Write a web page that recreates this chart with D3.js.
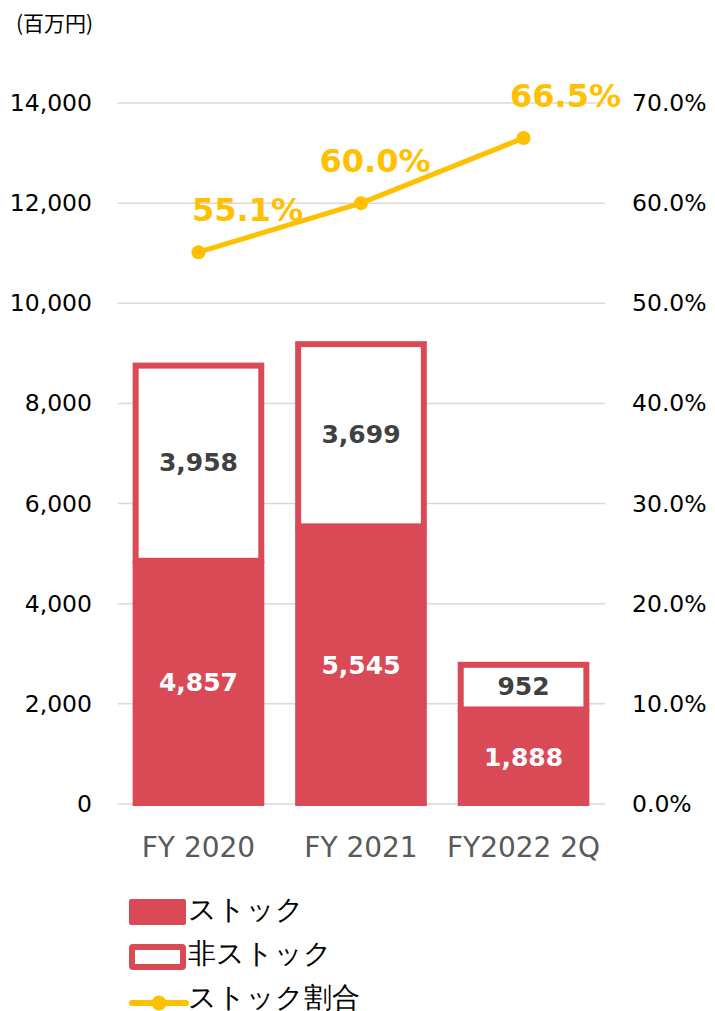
<!DOCTYPE html>
<html>
<head>
<meta charset="utf-8">
<script src="https://cdn.jsdelivr.net/npm/d3@7"></script>
<style>
body { margin: 0; background: #fff; }
svg { display: block; }
text { font-family: "DejaVu Sans", Verdana, sans-serif; }
.jp { font-family: "Noto Sans CJK JP", sans-serif; }
</style>
</head>
<body>
<svg id="svg" width="715" height="1011"></svg>
<script>
const categories = ["FY 2020", "FY 2021", "FY2022 2Q"];
const stock = [4857, 5545, 1888];
const nonStock = [3958, 3699, 952];
const ratio = [55.1, 60.0, 66.5];
const leftTicks = [0, 2000, 4000, 6000, 8000, 10000, 12000, 14000];
const rightTicks = [0, 10, 20, 30, 40, 50, 60, 70];

const red = "#d94a56";
const gold = "#ffc000";
const svg = d3.select("#svg");

const x = d3.scaleBand().domain(categories).range([118, 604]).paddingInner(0.19).paddingOuter(0.09);
const y = d3.scaleLinear().domain([0, 14000]).range([804, 103]);
const y2 = d3.scaleLinear().domain([0, 70]).range([804, 103]);

// gridlines
svg.append("g")
    .selectAll("line")
    .data(leftTicks)
    .join("line")
    .attr("x1", 118).attr("x2", 605)
    .attr("y1", d => y(d)).attr("y2", d => y(d))
    .attr("stroke", "#d9d9d9")
    .attr("stroke-width", 1.5);

// left axis
const yAxis = d3.axisLeft(y).tickValues(leftTicks).tickSize(0).tickPadding(0)
    .tickFormat(d3.format(","));
svg.append("g")
    .attr("transform", "translate(92,0)")
    .call(yAxis)
    .call(g => g.select(".domain").remove())
    .call(g => g.selectAll("text").attr("font-size", 23.5).attr("fill", "#000")
        .attr("font-family", "DejaVu Sans, Verdana, sans-serif"));

// right axis
const y2Axis = d3.axisRight(y2).tickValues(rightTicks).tickSize(0).tickPadding(0)
    .tickFormat(d => d.toFixed(1) + "%");
svg.append("g")
    .attr("transform", "translate(632,0)")
    .call(y2Axis)
    .call(g => g.select(".domain").remove())
    .call(g => g.selectAll("text").attr("font-size", 23.5).attr("fill", "#000")
        .attr("font-family", "DejaVu Sans, Verdana, sans-serif"));

// unit
svg.append("text").attr("class", "jp").attr("x", 16).attr("y", 31)
    .attr("font-size", 21).attr("fill", "#000").text("(百万円)");

const sw = 6;
// stock bars
svg.append("g").selectAll("rect")
    .data(categories)
    .join("rect")
    .attr("x", d => x(d))
    .attr("width", x.bandwidth())
    .attr("y", (d, i) => y(stock[i]))
    .attr("height", (d, i) => y(0) - y(stock[i]) + 2)
    .attr("fill", red);

// non-stock bars
svg.append("g").selectAll("rect")
    .data(categories)
    .join("rect")
    .attr("x", d => x(d) + sw / 2)
    .attr("width", x.bandwidth() - sw)
    .attr("y", (d, i) => y(stock[i] + nonStock[i]) + sw / 2)
    .attr("height", (d, i) => y(stock[i]) - y(stock[i] + nonStock[i]) - sw / 2)
    .attr("fill", "#fff")
    .attr("stroke", red)
    .attr("stroke-width", sw);

// bar labels
svg.append("g").selectAll("text")
    .data(categories)
    .join("text")
    .attr("x", d => x(d) + x.bandwidth() / 2)
    .attr("y", (d, i) => (y(stock[i]) + y(0)) / 2)
    .attr("dy", "0.36em")
    .attr("text-anchor", "middle")
    .attr("font-size", 25).attr("font-weight", "bold").attr("fill", "#fff")
    .text((d, i) => d3.format(",")(stock[i]));

svg.append("g").selectAll("text")
    .data(categories)
    .join("text")
    .attr("x", d => x(d) + x.bandwidth() / 2)
    .attr("y", (d, i) => (y(stock[i]) + y(stock[i] + nonStock[i])) / 2)
    .attr("dy", "0.36em")
    .attr("text-anchor", "middle")
    .attr("font-size", 25).attr("font-weight", "bold").attr("fill", "#404040")
    .text((d, i) => d3.format(",")(nonStock[i]));

// x axis labels
svg.append("g").selectAll("text")
    .data(categories)
    .join("text")
    .attr("x", d => x(d) + x.bandwidth() / 2)
    .attr("y", 857)
    .attr("text-anchor", "middle")
    .attr("font-size", 28).attr("fill", "#595959")
    .text(d => d);

// ratio line
const line = d3.line()
    .x((d, i) => x(categories[i]) + x.bandwidth() / 2)
    .y(d => y2(d));
svg.append("path")
    .datum(ratio)
    .attr("d", line)
    .attr("fill", "none")
    .attr("stroke", gold)
    .attr("stroke-width", 5);

svg.append("g").selectAll("circle")
    .data(ratio)
    .join("circle")
    .attr("cx", (d, i) => x(categories[i]) + x.bandwidth() / 2)
    .attr("cy", d => y2(d))
    .attr("r", 7)
    .attr("fill", gold);

const labelDx = [49, 14, 42];
svg.append("g").selectAll("text")
    .data(ratio)
    .join("text")
    .attr("x", (d, i) => x(categories[i]) + x.bandwidth() / 2 + labelDx[i])
    .attr("y", d => y2(d) - 31)
    .attr("text-anchor", "middle")
    .attr("font-size", 32).attr("font-weight", "bold").attr("fill", gold)
    .text(d => d.toFixed(1) + "%");

// legend
const lg = svg.append("g").attr("class", "jp");
lg.append("rect").attr("x", 129).attr("y", 899).attr("width", 57).attr("height", 26)
    .attr("rx", 2).attr("fill", red);
lg.append("rect").attr("x", 132).attr("y", 947).attr("width", 51).attr("height", 20)
    .attr("rx", 1).attr("fill", "#fff").attr("stroke", red).attr("stroke-width", 6);
lg.append("line").attr("x1", 132).attr("x2", 186).attr("y1", 1003).attr("y2", 1003)
    .attr("stroke", gold).attr("stroke-width", 6).attr("stroke-linecap", "round");
lg.append("circle").attr("cx", 159).attr("cy", 1003).attr("r", 7.5).attr("fill", gold);
const legendNames = ["ストック", "非ストック", "ストック割合"];
lg.selectAll("text")
    .data(legendNames)
    .join("text")
    .attr("x", 188)
    .attr("y", (d, i) => 919 + i * 44)
    .attr("font-size", 28).attr("fill", "#000")
    .attr("font-family", "Noto Sans CJK JP, sans-serif")
    .text(d => d);
</script>
</body>
</html>
